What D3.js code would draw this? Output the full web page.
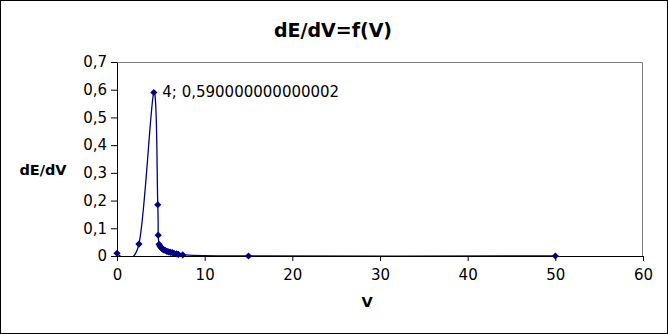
<!DOCTYPE html>
<html>
<head>
<meta charset="utf-8">
<script src="https://cdn.jsdelivr.net/npm/d3@7"></script>
<style>
  body { margin: 0; background: #fff; }
  svg text { font-family: "DejaVu Sans", sans-serif; }
</style>
</head>
<body>
<svg id="chart"></svg>
<script>
// data
const voltage = [0, 2.5, 4.2, 4.65, 4.7, 4.8, 4.9, 5.0, 5.1, 5.2, 5.35, 5.5, 5.7, 5.9, 6.1, 6.3, 6.5, 6.8, 7.0, 7.5, 15, 50];
const dEdV    = [0.01, 0.043, 0.59, 0.185, 0.075, 0.042, 0.036, 0.032, 0.028, 0.025, 0.022, 0.02, 0.017, 0.015, 0.013, 0.012, 0.01, 0.008, 0.006, 0.004, 0, 0];
const xTicks = [0, 10, 20, 30, 40, 50, 60];
const yTicks = [0, 0.1, 0.2, 0.3, 0.4, 0.5, 0.6, 0.7];
const peakLabel = "4; 0,590000000000002";
const peakIndex = 2;

const svgWidth = 668, svgHeight = 334;
const margin = {top: 62, right: 25, bottom: 78, left: 117},
    width = 643 - margin.left,
    height = 256 - margin.top;

const navy = "#000080";
var commaFormat = d => d === 0 ? "0" : d3.format(".1f")(d).replace(".", ",");

const chart = d3.select('#chart')
    .attr("width", svgWidth)
    .attr("height", svgHeight);

// outer frame
chart.append("rect")
    .attr("x", 0.5).attr("y", 0.5)
    .attr("width", svgWidth - 1).attr("height", svgHeight - 1)
    .attr("fill", "#fff").attr("stroke", "#000");

chart.append("text")
    .attr("x", 333).attr("y", 37)
    .attr("text-anchor", "middle")
    .style("font-size", "19px").style("font-weight", "bold")
    .text("dE/dV=f(V)");

chart.append("text")
    .attr("x", 43).attr("y", 175)
    .attr("text-anchor", "middle")
    .style("font-size", "14.5px").style("font-weight", "bold")
    .text("dE/dV");

chart.append("text")
    .attr("x", 367).attr("y", 307)
    .attr("text-anchor", "middle")
    .style("font-size", "14.5px").style("font-weight", "bold")
    .text("V");

const inner = chart.append("g")
    .attr("transform", `translate(${margin.left},${margin.top})`);

var xScale = d3.scaleLinear().domain([0, 60]).range([0, width]);
var yScale = d3.scaleLinear().domain([0, 0.7]).range([height, 0]);

// plot area border (top/right grey)
inner.append("path")
    .attr("d", `M0,0.5H${width - 0.5}V${height}`)
    .attr("fill", "none").attr("stroke", "#808080");

chart.append("defs").append("clipPath").attr("id", "clip")
    .append("rect").attr("x", 0).attr("y", 0).attr("width", width).attr("height", height);

var pts = voltage.map((v, i) => [v, dEdV[i]]);

// smoothed line, clipped to the plot area like the spreadsheet does
var line = d3.line()
    .x(d => xScale(d[0]))
    .y(d => yScale(d[1]))
    .curve(d3.curveCardinal.tension(0));

inner.append("path")
    .datum(pts)
    .attr("clip-path", "url(#clip)")
    .attr("d", line)
    .attr("fill", "none")
    .attr("stroke", navy)
    .attr("stroke-width", 1.3);

// axes
var xAxis = d3.axisBottom(xScale).tickValues(xTicks).tickSize(5).tickSizeOuter(0).tickPadding(8);
var yAxis = d3.axisLeft(yScale).tickValues(yTicks).tickSize(6).tickSizeOuter(0).tickPadding(4).tickFormat(commaFormat);

var gx = inner.append("g").attr("transform", `translate(0,${height})`).call(xAxis);
var gy = inner.append("g").call(yAxis);
[gx, gy].forEach(g => {
    g.selectAll("text").style("font-size", "15px").attr("fill", "#000")
        .style("font-family", "DejaVu Sans, sans-serif");
    g.selectAll("line,path").attr("stroke", "#000");
});

// markers
inner.selectAll(".dot")
    .data(pts)
    .enter().append("path")
    .attr("class", "dot")
    .attr("transform", d => `translate(${xScale(d[0])},${yScale(d[1])})`)
    .attr("d", "M0,-3.6L3.6,0L0,3.6L-3.6,0Z")
    .attr("fill", navy);

inner.append("text")
    .attr("x", xScale(pts[peakIndex][0]) + 8.5)
    .attr("y", yScale(pts[peakIndex][1]) + 4.5)
    .style("font-size", "15px")
    .text(peakLabel);
</script>
</body>
</html>
